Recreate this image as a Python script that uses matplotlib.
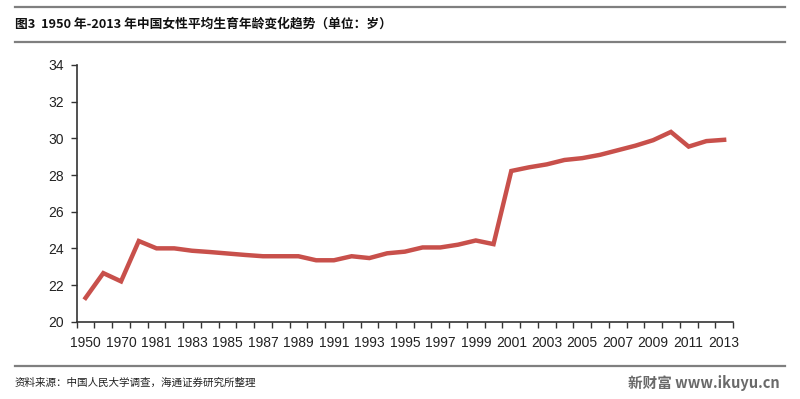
import numpy as np
import matplotlib.pyplot as plt
from matplotlib.lines import Line2D

plt.rcParams['font.family'] = ['Liberation Sans', 'Noto Sans CJK SC', 'DejaVu Sans']

years = ['1950', '1960', '1970', '1980'] + [str(y) for y in range(1981, 2014)]
age = [21.3, 22.65, 22.2, 24.4,
       24.0, 24.0, 23.87, 23.8, 23.72, 23.64, 23.57, 23.57, 23.57,
       23.35, 23.35, 23.57, 23.47, 23.73, 23.82, 24.05, 24.05, 24.2, 24.43,
       24.23, 28.22, 28.42, 28.58, 28.82, 28.92, 29.1, 29.35, 29.6, 29.9,
       30.35, 29.55, 29.85, 29.92]

title = '图3  1950 年-2013 年中国女性平均生育年龄变化趋势（单位：岁）'
source = '资料来源：中国人民大学调查，海通证券研究所整理'
mark = '新财富 www.ikuyu.cn'

fig = plt.figure(figsize=(8, 3.99), dpi=100)
ax = fig.add_axes([76.7/800, 1 - 321.7/399, (733 - 76.7)/800, (321.7 - 65)/399])

x = np.arange(len(years))
ax.plot(x, age, color='#C8504B', lw=3.2, solid_joinstyle='miter')

ax.set_xlim(-0.5, len(years) - 0.5)
ax.set_ylim(20, 34)
ax.set_yticks(np.arange(20, 35, 2))
ax.set_xticks(np.arange(-0.5, len(years), 1))
ax.set_xticklabels([])
ax.set_xticks(x[::2], minor=True)
ax.set_xticklabels(years[::2], minor=True)
ax.tick_params(axis='x', which='major', length=4, width=1, direction='out', color='#333333')
ax.tick_params(axis='x', which='minor', length=0, pad=10, labelsize=10, labelcolor='#222222')
ax.tick_params(axis='y', length=4, width=1, direction='out', color='#333333',
               labelsize=10, labelcolor='#222222', pad=5)
for s in ['top', 'right']:
    ax.spines[s].set_visible(False)
for s in ['left', 'bottom']:
    ax.spines[s].set_color('#333333')
    ax.spines[s].set_linewidth(1.2)

# header / footer rules
for yy in [6.7, 41.5, 365.5]:
    fig.add_artist(Line2D([15/800, 785/800], [1 - yy/399] * 2, color='#7f7f7f', lw=1.6))

fig.text(15/800, 1 - 24/399, title, fontsize=9.2, fontweight='bold', va='center',
         family=['Noto Sans CJK SC', 'DejaVu Sans'], color='#111111')
fig.text(15/800, 1 - 383/399, source, fontsize=7.6, va='center',
         family=['Noto Sans CJK SC', 'DejaVu Sans'], color='#222222')
fig.text(780/800, 1 - 383/399, mark, fontsize=10.5, va='center', ha='right', fontweight='bold',
         family=['Noto Sans CJK SC', 'DejaVu Sans'], color='#6a6a6a')

fig.savefig('out.png', dpi=100)
